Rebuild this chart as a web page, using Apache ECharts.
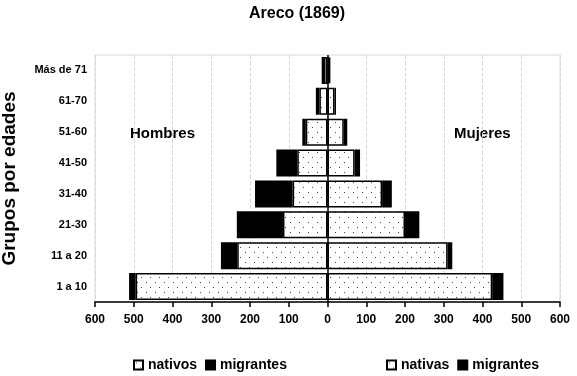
<!DOCTYPE html>
<html>
<head>
<meta charset="utf-8">
<script src="https://cdn.jsdelivr.net/npm/echarts@6/dist/echarts.min.js"></script>
<style>
html,body{margin:0;padding:0;background:#fff;}
#c{width:577px;height:376px;}
</style>
</head>
<body>
<div id="c"></div>
<script>
const categories = ['1 a 10', '11 a 20', '21-30', '31-40', '41-50', '51-60', '61-70', 'Más de 71'];
const hombresNativos = [495, 233, 115, 90, 78, 56, 21, 9];
const hombresMigrantes = [17, 42, 119, 97, 54, 9, 9, 6];
const mujeresNativas = [425, 310, 200, 141, 70, 42, 18, 4];
const mujeresMigrantes = [29, 12, 37, 25, 14, 9, 4, 3];
const xTicks = [-600, -500, -400, -300, -200, -100, 0, 100, 200, 300, 400, 500, 600];

const FONT = '"Liberation Sans", Arial, sans-serif';

function dotPattern() {
  const cv = document.createElement('canvas');
  cv.width = 9; cv.height = 10;
  const ctx = cv.getContext('2d');
  ctx.fillStyle = '#fff';
  ctx.fillRect(0, 0, 9, 10);
  ctx.fillStyle = '#444';
  ctx.fillRect(2, 2, 1, 1);
  ctx.fillRect(6, 7, 1, 1);
  return cv;
}
const pat = { image: dotPattern(), repeat: 'repeat' };

const chart = echarts.init(document.getElementById('c'));
const barBase = {
  type: 'bar',
  stack: 'total',
  barWidth: 27,
  animation: false
};
const legendText = { fontFamily: FONT, fontWeight: 'bold', fontSize: 14, color: '#000' };
chart.setOption({
  animation: false,
  title: {
    text: 'Areco (1869)',
    left: 292, top: 1, textAlign: 'center',
    textStyle: { fontFamily: FONT, fontWeight: 'bold', fontSize: 16, color: '#000' }
  },
  grid: { left: 95, right: 17, top: 55, bottom: 74, show: true, borderColor: '#d9d9d9', borderWidth: 1, outerBoundsMode: 'none', containLabel: false },
  legend: [
    {
      data: [{ name: 'nativos', icon: 'rect' }, { name: 'migrantes', icon: 'rect' }],
      left: 128, top: 353,
      itemWidth: 9, itemHeight: 9, itemGap: 8,
      textStyle: legendText
    },
    {
      data: [{ name: 'nativas', icon: 'rect' }, { name: 'migrantes ', icon: 'rect' }],
      left: 381, top: 353,
      itemWidth: 9, itemHeight: 9, itemGap: 8,
      textStyle: legendText
    }
  ],
  xAxis: {
    type: 'value',
    min: -600, max: 600, interval: 100,
    axisLine: { show: true, onZero: false, lineStyle: { color: '#000', width: 1.5 } },
    axisTick: { show: true, length: 5, lineStyle: { color: '#000', width: 1.5 } },
    axisLabel: {
      margin: 12,
      fontFamily: FONT, fontWeight: 'bold', fontSize: 12, color: '#000',
      formatter: v => String(Math.abs(v))
    },
    splitLine: { show: true, lineStyle: { color: '#d9d9d9', type: 'dashed', width: 1 } }
  },
  yAxis: {
    type: 'category',
    data: categories,
    name: 'Grupos por edades',
    nameLocation: 'middle',
    nameGap: 76,
    nameTextStyle: { fontFamily: FONT, fontWeight: 'bold', fontSize: 19, color: '#000' },
    axisLine: { show: false },
    axisTick: { show: false },
    axisLabel: { margin: 8, fontFamily: FONT, fontWeight: 'bold', fontSize: 11, color: '#000' },
    splitLine: { show: false }
  },
  graphic: [
    { type: 'text', left: 130, top: 126, style: { text: 'Hombres', font: 'bold 15px ' + FONT, fill: '#000' } },
    { type: 'text', left: 454, top: 126, style: { text: 'Mujeres', font: 'bold 15px ' + FONT, fill: '#000' } }
  ],
  series: [
    Object.assign({}, barBase, {
      name: 'nativos',
      data: hombresNativos.map(v => -v),
      itemStyle: { color: pat, borderColor: '#000', borderWidth: 1.5 }
    }),
    Object.assign({}, barBase, {
      name: 'migrantes',
      data: hombresMigrantes.map(v => -v),
      itemStyle: { color: '#000', borderColor: '#000', borderWidth: 1.5 }
    }),
    Object.assign({}, barBase, {
      name: 'nativas',
      data: mujeresNativas,
      itemStyle: { color: pat, borderColor: '#000', borderWidth: 1.5 }
    }),
    Object.assign({}, barBase, {
      name: 'migrantes ',
      data: mujeresMigrantes,
      itemStyle: { color: '#000', borderColor: '#000', borderWidth: 1.5 },
      markLine: {
        silent: true,
        symbol: 'none',
        label: { show: false },
        lineStyle: { color: '#000', type: 'solid', width: 1.5 },
        data: [{ xAxis: 0 }]
      }
    })
  ]
});
</script>
</body>
</html>
